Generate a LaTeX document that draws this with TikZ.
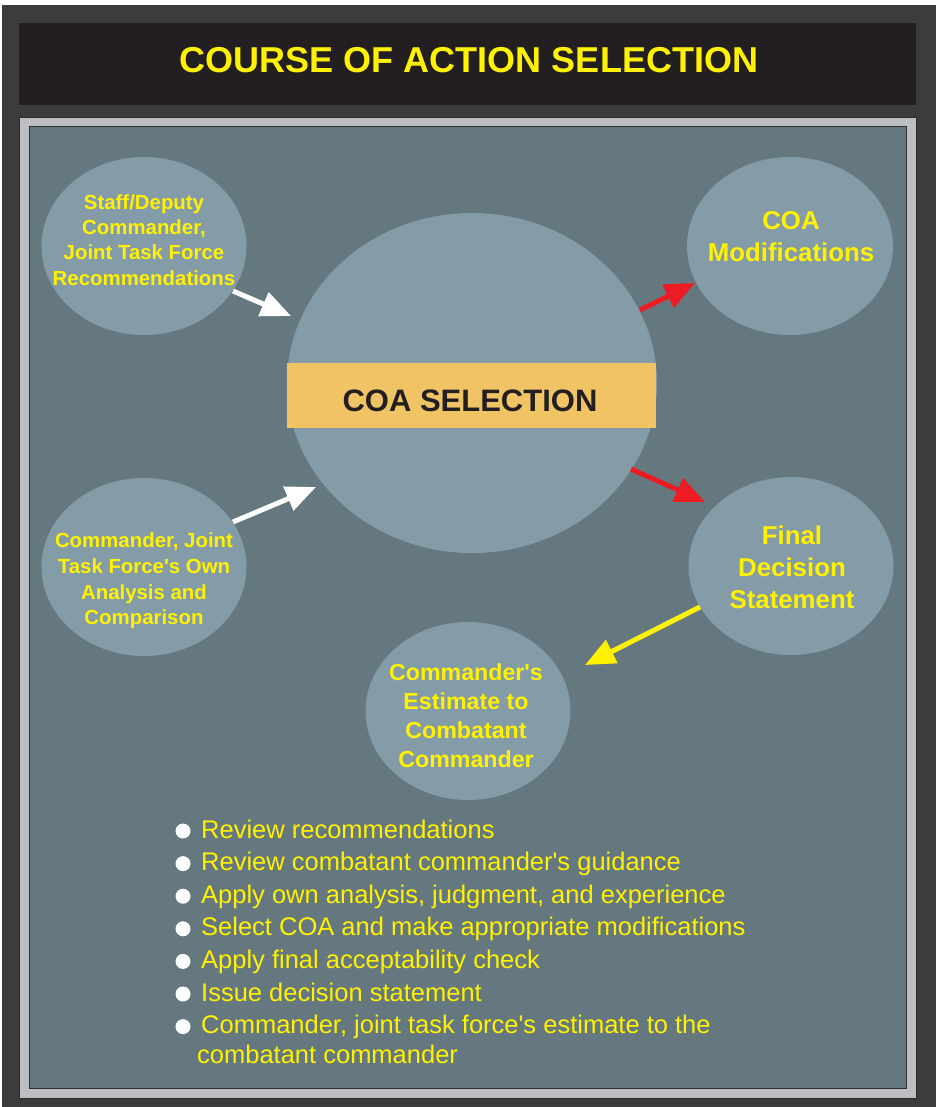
\documentclass[tikz,border=0pt]{standalone}
\usepackage{fontspec}
\setmainfont{Liberation Sans}
\usetikzlibrary{arrows.meta,shapes.geometric}
\definecolor{outerc}{HTML}{3C3C3C}
\definecolor{barc}{HTML}{231F20}
\definecolor{framec}{HTML}{BCBEC2}
\definecolor{panelc}{HTML}{657880}
\definecolor{ellc}{HTML}{849CA8}
\definecolor{orangec}{HTML}{F0C464}
\definecolor{yel}{HTML}{FFF200}
\definecolor{redc}{HTML}{ED1C24}
\definecolor{edgec}{HTML}{2E2E2E}
\tikzset{
  ell/.style={ellipse, fill=ellc, inner sep=0pt},
  etxt/.style={text=yel, align=center, inner sep=0pt},
  arr/.style={line width=5pt, -{Triangle[length=30pt,width=25pt]}},
  bul/.style={circle, fill=white, inner sep=0pt, minimum size=15pt},
  btxt/.style={text=yel, anchor=base west, inner sep=0pt, font=\fontsize{25.5}{32.6}\selectfont}
}
\begin{document}
\begin{tikzpicture}[x=1pt,y=-1pt]
\useasboundingbox (0,0) rectangle (936,1107);
\fill[white] (0,0) rectangle (936,1107);
% frames
\fill[outerc] (2,5) rectangle (936,1107);
\fill[barc] (19,23) rectangle (916,105);
\filldraw[fill=framec, draw=edgec, line width=0.8pt] (19,117) rectangle (916,1098);
\filldraw[fill=panelc, draw=edgec, line width=1pt] (29,127) rectangle (906,1088);
% title
\node[text=yel, inner sep=0pt, font=\fontsize{36}{40}\selectfont\bfseries] (title) at (469,60) {COURSE OF ACTION SELECTION};
% ellipses
\node[ell, minimum width=370pt, minimum height=340pt] (big) at (472,383) {};
\node[rectangle, fill=orangec, inner sep=0pt, minimum width=369pt, minimum height=65pt] (bar) at (471.5,395.5) {};
\node[text=barc, inner sep=0pt, font=\fontsize{31}{36}\selectfont\bfseries] (bartxt) at (470,400.5) {COA SELECTION};
\node[ell, minimum width=205pt, minimum height=178pt] (tl) at (144,246) {};
\node[ell, minimum width=205pt, minimum height=178pt] (bl) at (144,567) {};
\node[ell, minimum width=206pt, minimum height=178pt] (tr) at (790,246) {};
\node[ell, minimum width=205pt, minimum height=178pt] (fr) at (791,566) {};
\node[ell, minimum width=205pt, minimum height=178pt] (bm) at (468,711) {};
% ellipse texts
\node[etxt, font=\fontsize{20.4}{25.4}\selectfont\bfseries] (tltxt) at (144,240) {Staff/Deputy\\Commander,\\Joint Task Force\\Recommendations};
\node[etxt, font=\fontsize{20.4}{25.6}\selectfont\bfseries] (bltxt) at (144,581) {Commander, Joint\\Task Force\textquotesingle s Own\\Analysis and\\Comparison};
\node[etxt, font=\fontsize{25.8}{32}\selectfont\bfseries] (trtxt) at (791,237) {COA\\Modifications};
\node[etxt, font=\fontsize{25.8}{32}\selectfont\bfseries] (frtxt) at (792,567) {Final\\Decision\\Statement};
\node[etxt, font=\fontsize{23.2}{29}\selectfont\bfseries] (bmtxt) at (466,716) {Commander\textquotesingle s\\Estimate to\\Combatant\\Commander};
% arrows
\draw[arr, white] ([shift={(89,45)}]tl.center) -- ([shift={(-181,-67)}]big.center);
\draw[arr, white] ([shift={(89,-45)}]bl.center) -- ([shift={(-156,104)}]big.center);
\draw[arr, redc] ([shift={(168,-73)}]big.center) -- ([shift={(-95,37)}]tr.center);
\draw[arr, redc] ([shift={(159,86)}]big.center) -- ([shift={(-86,-64)}]fr.center);
\draw[arr, yel] ([shift={(-91,41)}]fr.center) -- ([shift={(117,-46)}]bm.center);
% bullets
\node[bul] (d1) at (183,831) {};
\node[btxt] (t1) at (201,838) {Review recommendations};
\node[bul] (d2) at (183,863.6) {};
\node[btxt] (t2) at (201,870.6) {Review combatant commander\textquotesingle s guidance};
\node[bul] (d3) at (183,896.2) {};
\node[btxt] (t3) at (201,903.2) {Apply own analysis, judgment, and experience};
\node[bul] (d4) at (183,928.8) {};
\node[btxt] (t4) at (201,935.8) {Select COA and make appropriate modifications};
\node[bul] (d5) at (183,961.4) {};
\node[btxt] (t5) at (201,968.4) {Apply final acceptability check};
\node[bul] (d6) at (183,994) {};
\node[btxt] (t6) at (201,1001) {Issue decision statement};
\node[bul] (d7) at (183,1026.6) {};
\node[btxt] (t7) at (201,1033.6) {Commander, joint task force\textquotesingle s estimate to the};
\node[btxt] (t7b) at (197,1063.5) {combatant commander};
\end{tikzpicture}
\end{document}
